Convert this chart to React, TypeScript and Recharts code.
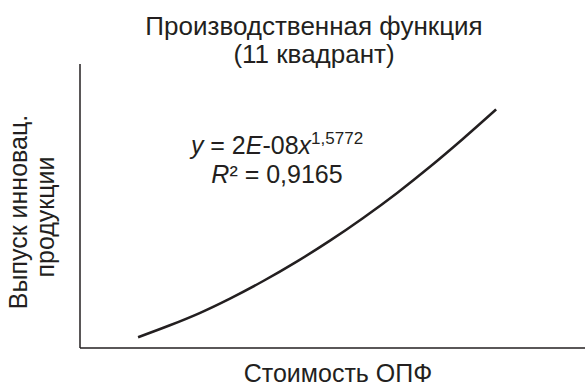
import { LineChart, Line, XAxis, YAxis, Customized } from 'recharts';

// trend line points (x: cost of fixed assets, y: innovative output), axes 0..100
const costValues = [11.5, 17.8, 23.8, 29.7, 36.2, 43.0, 49.5, 56.0, 62.8, 69.3, 75.8, 82.4];
const outputValues = [3.8, 8.0, 12.4, 17.4, 23.5, 30.5, 37.8, 45.7, 54.6, 63.8, 73.6, 84.0];

const titleLines = ['Производственная функция', '(11 квадрант)'];
const yLabelLines = ['Выпуск инновац.', 'продукции'];
const xLabel = 'Стоимость ОПФ';

const FONT = '"Liberation Sans", Arial, sans-serif';
const INK = '#231f20';

const data = costValues.map((x, i) => ({ x, y: outputValues[i] }));

function Annotations() {
  return (
    <g fontFamily={FONT} fill={INK}>
      <text x={314} y={35} fontSize={26} textAnchor="middle">{titleLines[0]}</text>
      <text x={314} y={63} fontSize={26} textAnchor="middle">{titleLines[1]}</text>

      <text x={338} y={382} fontSize={25} textAnchor="middle">{xLabel}</text>

      <text transform="translate(27,212) rotate(-90)" fontSize={25} textAnchor="middle">{yLabelLines[0]}</text>
      <text transform="translate(54,217) rotate(-90)" fontSize={25} textAnchor="middle">{yLabelLines[1]}</text>

      <text x={277} y={154} fontSize={25} textAnchor="middle">
        <tspan fontStyle="italic">y</tspan>
        <tspan> = 2</tspan>
        <tspan fontStyle="italic">E</tspan>
        <tspan>-08</tspan>
        <tspan fontStyle="italic">x</tspan>
        <tspan fontSize={17} dy={-10}>1,5772</tspan>
      </text>
      <text x={277} y={183} fontSize={25} textAnchor="middle">
        <tspan fontStyle="italic">R</tspan>
        <tspan>² = 0,9165</tspan>
      </text>
    </g>
  );
}

export default function App() {
  return (
    <div style={{ position: 'absolute', left: 0, top: 0, width: 585, height: 387, background: '#fff' }}>
      <LineChart width={585} height={387} data={data} margin={{ top: 64, right: 0, bottom: 38, left: 79 }}>
        <XAxis
          dataKey="x"
          type="number"
          domain={[0, 100]}
          height={1}
          tick={false}
          tickLine={false}
          axisLine={{ stroke: INK, strokeWidth: 1.5 }}
        />
        <YAxis
          type="number"
          domain={[0, 100]}
          width={1}
          tick={false}
          tickLine={false}
          axisLine={{ stroke: INK, strokeWidth: 1.5 }}
        />
        <Line
          type="monotone"
          dataKey="y"
          stroke={INK}
          strokeWidth={2.5}
          dot={false}
          isAnimationActive={false}
        />
        <Customized component={Annotations} />
      </LineChart>
    </div>
  );
}
